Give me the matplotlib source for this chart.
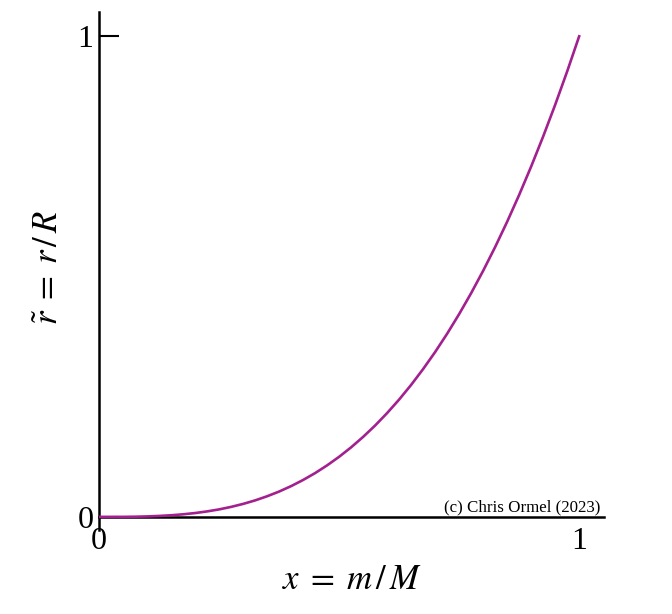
import matplotlib
matplotlib.use("Agg")
import matplotlib.pyplot as plt

plt.rcParams['font.family'] = ['Liberation Serif', 'DejaVu Serif']
plt.rcParams['mathtext.fontset'] = 'stix'

# mass coordinate and radius
x = [0.0, 0.025, 0.05, 0.075, 0.10, 0.125, 0.15, 0.175, 0.20, 0.225, 0.25,
     0.275, 0.30, 0.325, 0.35, 0.375, 0.40, 0.425, 0.45, 0.475, 0.50,
     0.525, 0.55, 0.575, 0.60, 0.625, 0.65, 0.675, 0.70, 0.725, 0.75,
     0.775, 0.80, 0.825, 0.85, 0.875, 0.90, 0.925, 0.95, 0.975, 1.0]
r = [0.0, 0.00002, 0.0001, 0.0004, 0.001, 0.002, 0.0034, 0.0054, 0.008, 0.0114, 0.0156,
     0.0208, 0.027, 0.0343, 0.0429, 0.0527, 0.064, 0.0768, 0.0911, 0.1072, 0.125,
     0.1447, 0.1664, 0.1901, 0.216, 0.2441, 0.2746, 0.3076, 0.343, 0.3811, 0.4219,
     0.4655, 0.512, 0.5615, 0.6141, 0.6699, 0.729, 0.7915, 0.8574, 0.9269, 1.0]

xticks = [0, 1]
yticks = [0, 1]
credit = '(c) Chris Ormel (2023)'

fig = plt.figure(figsize=(6.72, 6.14), dpi=100)
ax = fig.add_axes([0.1473, 0.137, 0.7517, 0.843])

ax.plot(x, r, color='#a3208f', lw=1.9, zorder=3)

ax.set_xlim(0, 1.052)
ax.set_ylim(-0.027, 1.05)

ax.spines['top'].set_visible(False)
ax.spines['right'].set_visible(False)
ax.spines['bottom'].set_position(('data', 0))
for s in ['left', 'bottom']:
    ax.spines[s].set_linewidth(1.8)
    ax.spines[s].set_zorder(2)

ax.set_xticks(xticks)
ax.set_yticks(yticks)
ax.set_xticklabels([str(t) for t in xticks])
ax.set_yticklabels([str(t) for t in yticks])
ax.tick_params(axis='x', length=0, pad=7, labelsize=23)
ax.tick_params(axis='y', direction='in', length=14.5, width=1.5, pad=4, labelsize=23)

ax.set_xlabel(r'$x\;=\;m\,/\,M$', fontsize=25, labelpad=6)
ax.set_ylabel(r'$\tilde{r}\;=\;r\,/\,R$', fontsize=25)
ax.yaxis.set_label_coords(-0.065, 0.508)

ax.text(1.044, 0.003, credit, transform=ax.transData, ha='right', va='bottom',
        fontsize=12.2, zorder=4,
        bbox=dict(facecolor='white', edgecolor='none', pad=0.5))

fig.savefig('out.png', dpi=100)
